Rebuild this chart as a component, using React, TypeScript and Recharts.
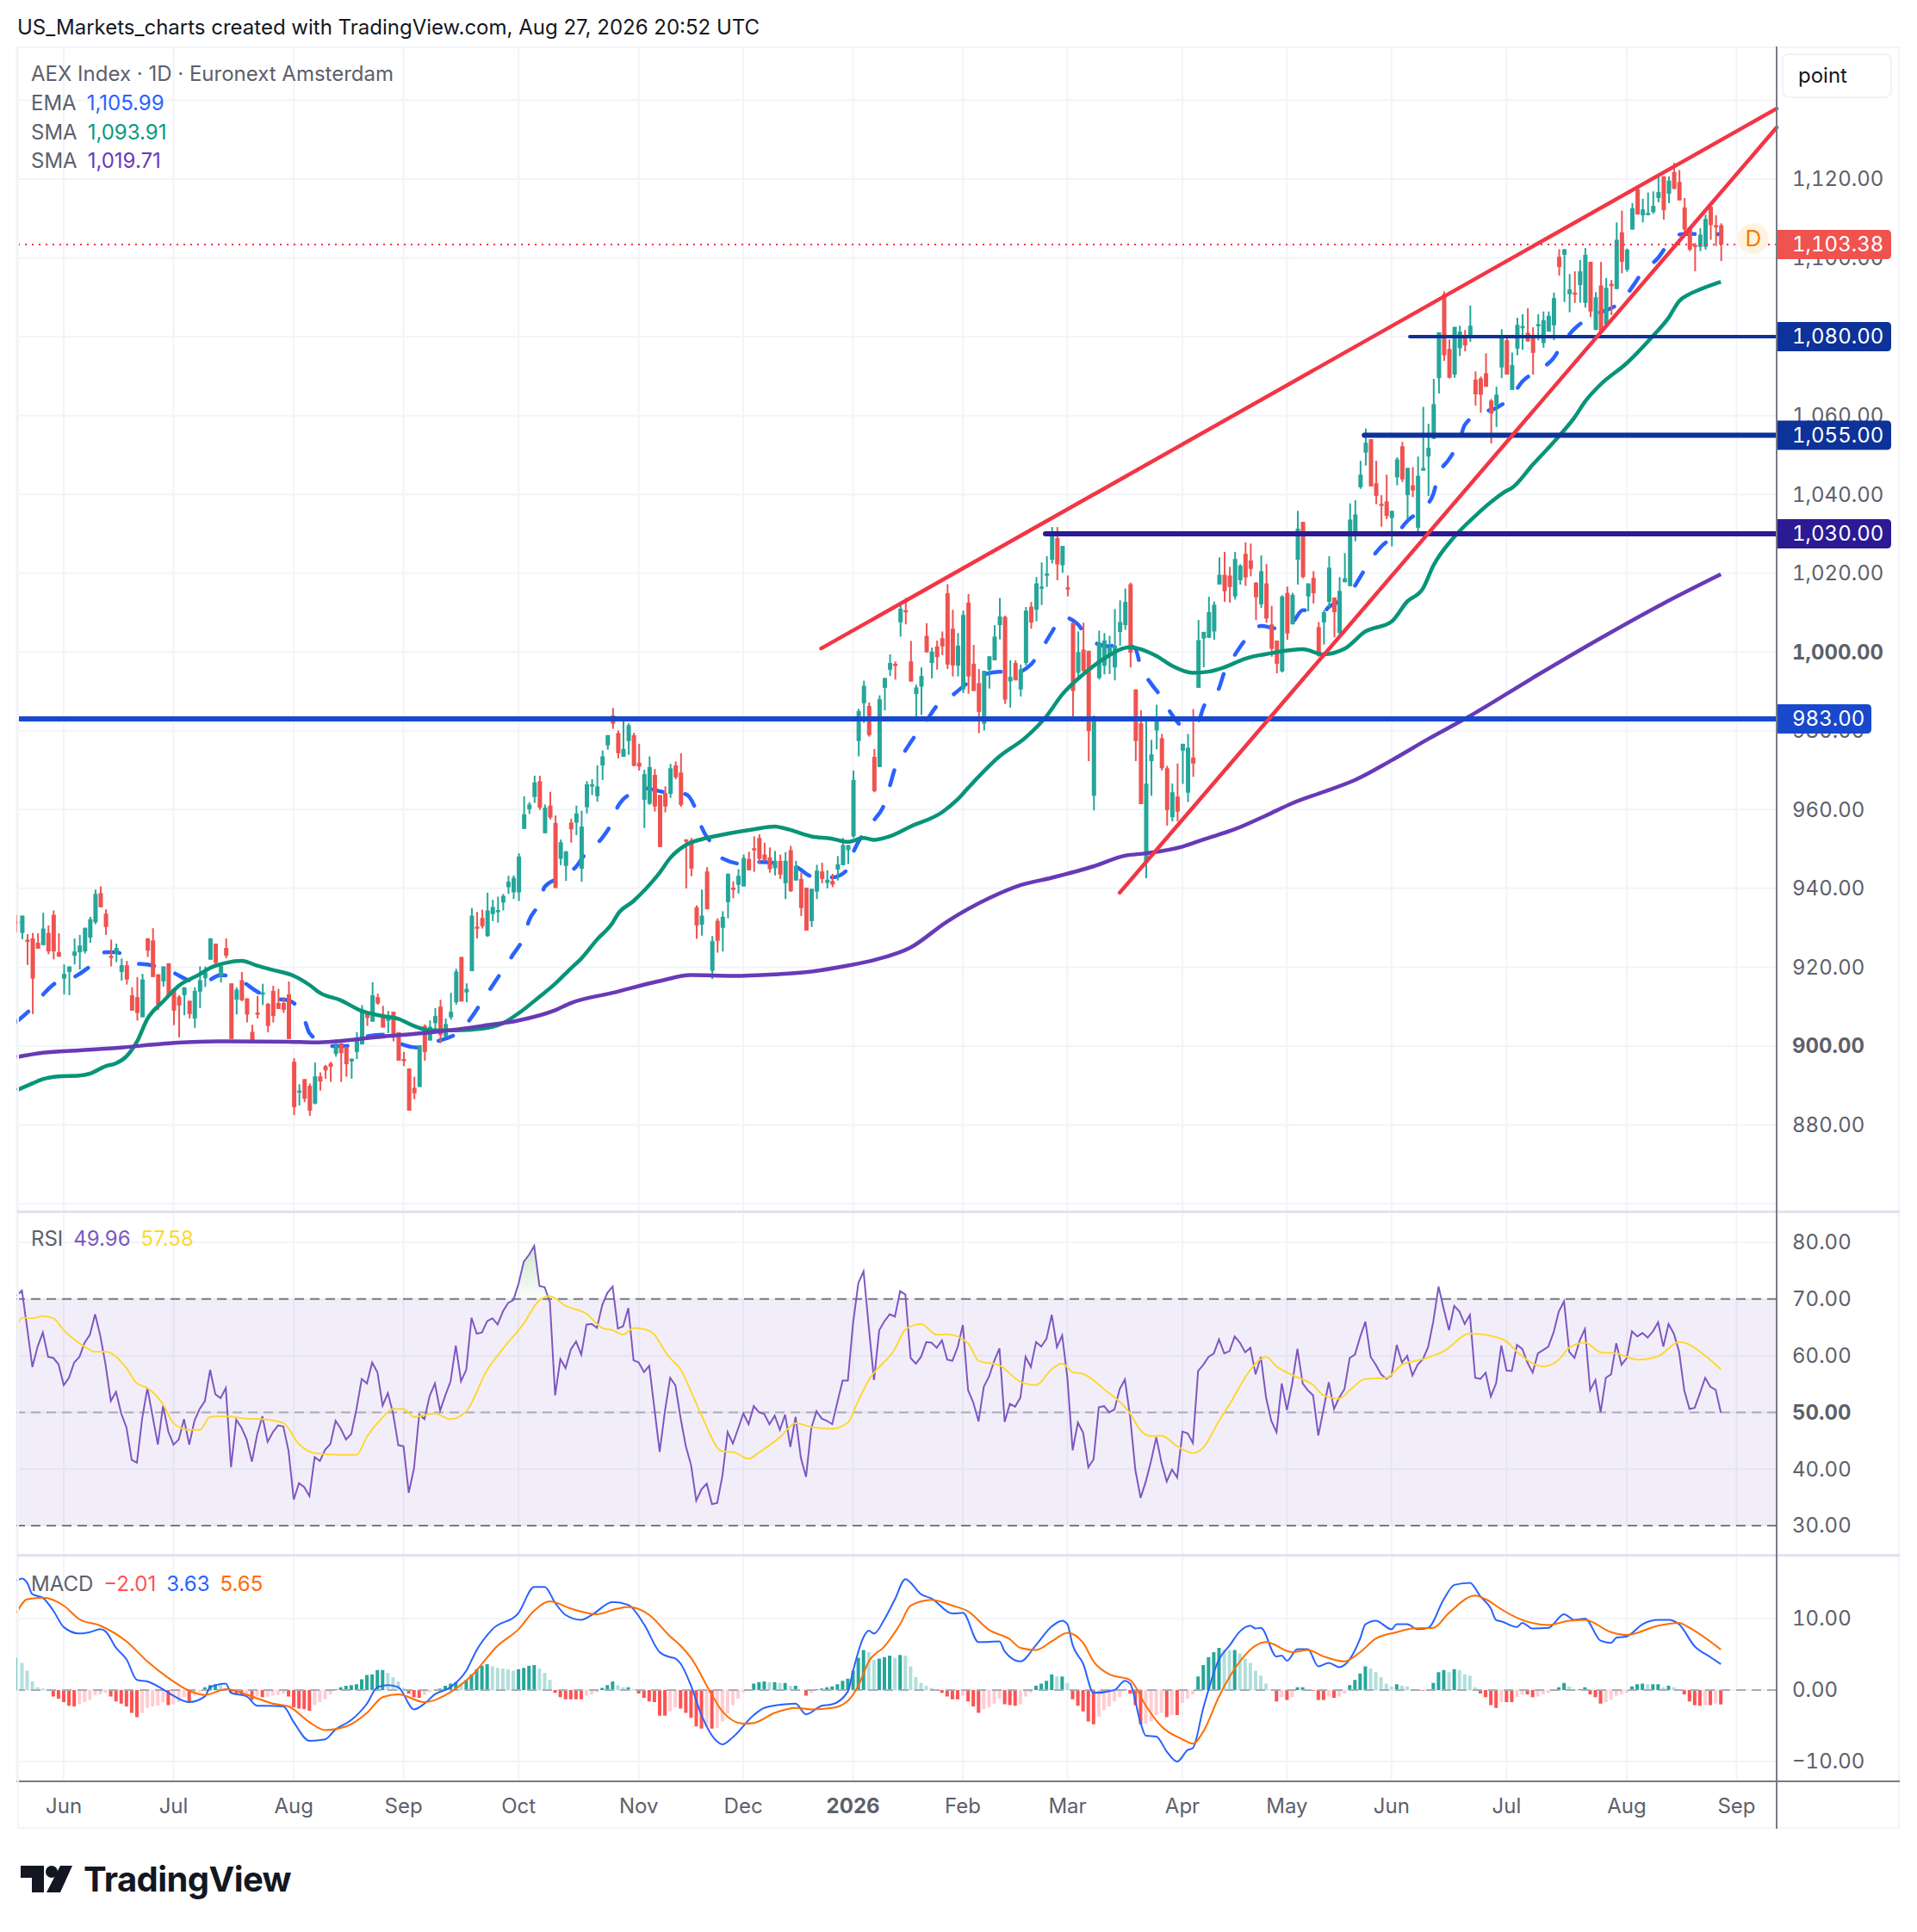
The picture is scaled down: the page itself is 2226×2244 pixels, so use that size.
/**
 * AEX Index daily chart with RSI and MACD panes, drawn with Recharts.
 */
import React from 'react';
import {
  ComposedChart,
  Bar,
  Line,
  Area,
  Cell,
  XAxis,
  YAxis,
  CartesianGrid,
  ReferenceLine,
  ReferenceArea,
  ReferenceDot,
} from 'recharts';

const FONT = 'Inter, "Liberation Sans", sans-serif';
const UP = '#26a69a';
const DOWN = '#ef5350';
const GRID = '#f2f4f9';
const TEXT = '#5d606b';

// [open, high, low, close], one row per session from late May 2025
const ohlc: number[][] = [
  [931.7,933.3,928.9,931],[928.7,933.1,927.1,933.1],[927,928.4,920.6,926.7],[927.3,928.7,908.1,917.1],[926.2,928.6,924.7,924.7],
  [925.6,933.8,925.6,929.8],[928.7,930.6,923.3,924],[933.3,934.4,922,924],[923.8,928.6,922.6,922.7],[917.1,920.7,913.1,918.3],
  [918.8,920.2,912.9,920.2],[922.9,927.3,920.7,924],[923.8,928.2,919.4,925.5],[924,930,923.5,930],[927.5,932.8,926.2,932.2],
  [931.4,939.7,930.9,938.6],[938.8,940.5,935.2,935.2],[933.6,934.7,928.2,930.2],[922.9,927,920.2,922.6],[923.5,926,921.3,924.9],
  [918.8,922.2,916.6,920.5],[920.5,921.6,915.6,916.9],[912.9,914.9,909,909],[912.4,917.5,906.5,908.4],[907.3,918.3,907.3,916.9],
  [927.3,927.4,922.6,924.2],[926.8,929.9,917.5,917.5],[918.2,918.2,909.1,910.5],[916.4,920.2,915.1,920.2],[921,921,912.9,912.9],
  [914.5,914.5,905.3,909],[912.5,912.9,902.2,910.3],[912.9,914.9,907.8,914.9],[911.5,911.5,907,908.1],[907,914.9,904.6,914],
  [913.8,920.2,909.6,916.7],[917.2,920.2,915,918.7],[921.9,927.4,921.9,927.3],[926,926,920.2,921.1],[917.7,920.7,916.1,920.4],
  [924.9,927.3,922.3,922.9],[915.9,915.9,901.8,901.8],[911.8,914.9,908,914.3],[916.7,918.8,911.4,911.6],[912.1,912.1,906,908],
  [903.6,905.4,900.8,900.8],[908.5,912.7,907,908],[913.3,915.8,910.4,913.6],[910.7,910.9,903.5,905.1],[914,915.3,906,907.6],
  [910.9,914.5,909.4,909.4],[910.9,912.4,908.4,909.2],[913.1,916.4,901.8,901.8],[896,896.9,882.5,884.5],[888.4,890.3,884.9,888.7],
  [891.6,891.6,885.8,886.6],[889.9,890.5,882.3,883.6],[885.4,895.8,885.2,892.3],[892.3,893.3,888.7,891],[894.9,895.2,891.7,893.8],
  [895.6,896,890.9,894.7],[898,901.7,897.3,900],[900.7,900.7,890.9,898.2],[899.8,899.8,892.2,895.4],[896.1,896.8,891.7,896.8],
  [898.5,903.5,896.7,902],[900.4,910.4,900.4,909.1],[908.7,908.7,905.1,907.1],[906.2,916.2,906.2,912.9],[912.4,913.3,910.5,910.8],
  [908,910.2,904.7,904.7],[906.4,908.9,903.3,907.6],[908.7,908.7,901.2,902.9],[903.5,903.5,896.3,896.3],[896.7,898.5,894.9,896.5],
  [894.3,894.3,883.6,883.6],[889.4,892.2,886.5,888],[889.6,900.2,889.6,900.2],[905.1,905.5,896.3,898.5],[901.4,906.5,901.4,904.9],
  [905.8,909.6,904,907.6],[910,911.7,900.7,902.8],[902.4,907,902.4,905.6],[907.3,913.5,906.7,908.7],[911.1,919.6,910.5,918.9],
  [922.6,922.6,911.3,911.3],[913.6,915.9,911.1,914.5],[919,935,919,933.1],[930.3,934,927.3,930.1],[932.5,934.6,929.8,930.4],
  [927.9,938.9,927.7,934.4],[933.5,937.1,931.7,935.3],[934.2,937.9,931.3,934.5],[936.4,938.6,934.4,938.1],[940.3,943.2,938.6,941.7],
  [939,943.3,937.3,942.7],[939,948.9,936.8,948.1],[955.1,963.4,955.1,958.8],[960.1,961.9,958.9,961.3],[963.2,968.6,961.7,966.9],
  [967.2,968.6,959.9,960.5],[954,961.3,954,960.5],[961,964.5,957.5,958],[956.6,958.5,940.1,940.1],[947.5,952.4,945.9,951.7],
  [945.7,949.5,941.9,949.4],[956.7,957.7,951.6,955],[956.7,961,953.5,959],[945,959.7,941.7,955.7],[960.6,967.2,959,966.4],
  [966,967.7,963.7,966.4],[963.4,971.2,962,965.9],[971.2,975,967.5,973.5],[976.3,978.9,975.2,978.9],[983.9,985.8,980.5,981.8],
  [979.4,980.1,973,974.3],[973.4,982.5,973.4,975.4],[977.4,981.9,973.9,981.4],[978.9,979.5,971,971.1],[971.9,976.7,969.9,970.9],
  [962.5,970.1,955.3,969],[961.5,973.5,961.2,970.8],[968.8,970.3,959.5,960.8],[963.7,963.7,950.5,950.5],[964.2,965.9,959.3,960.8],
  [964,971.6,963,970.5],[971.2,972.2,967.7,968.2],[969.4,974.3,960.7,961.2],[952.4,952.5,940,952.3],[952.2,952.8,943.1,945],
  [935.2,935.7,927.2,930.6],[930.8,939.7,928,933.1],[944.3,945.4,934.7,934.7],[919.1,927.9,917,926.6],[931.8,932.4,923.7,926.7],
  [930,934.2,924,932.8],[936.5,943.8,932.4,943.7],[940.2,941.8,937.5,939.7],[940.9,944.9,938.7,943.2],[940.5,948.6,940.5,947.7],
  [947.5,949.3,944.6,944.6],[950.2,953.2,944.2,950],[952.8,953.7,946.4,947.5],[948.6,951.6,947,947.2],[947.9,950.4,944,944.9],
  [945.1,949.5,943.3,947],[947,948.6,942.4,943.5],[941.3,949.2,937.3,947],[949.7,950.8,939.1,939.3],[942,947,942,945.7],
  [942.4,944,933,935],[940.2,940.2,929.3,929.3],[931.7,939.9,930.2,939.9],[939.2,946,937.3,944.5],[944.3,946.5,941.3,942.4],
  [941.4,944.6,940,942.2],[941.9,943.7,940.3,941],[944.8,948.2,942,946.1],[945.9,952.8,945.9,951],[949.7,951,946.2,951],
  [953.2,969.9,952.8,967.5],[977.4,985.6,973.5,985],[987,992.7,982,991.4],[986.3,987.2,978.5,978.9],[973.4,975.4,964.4,964.7],
  [970.8,989,970.8,988],[990.9,993.4,985.2,993.4],[995.5,999.4,993.9,997.2],[997,997.6,993,996.8],[1007.5,1012.6,1003.9,1011],
  [1010.6,1013.7,1007,1010.4],[997.6,1002.8,992.5,992.5],[989.3,991.7,982.5,991],[991.2,996.1,984,993.9],[1004.1,1007.3,999.9,999.9],
  [997.2,1001.1,993.3,1000.1],[1001.4,1002.9,995.5,998.7],[1003.5,1005.2,999.2,1001.4],[1014.9,1017.2,995.7,996.8],[1005.9,1010.7,993.8,996.6],
  [996.5,1004.8,993.8,1001.6],[990.5,1010.5,989.6,1009.4],[1012.5,1014.7,989.4,993.8],[997,1001.8,990.1,990.1],[992.1,995.7,979.4,984.8],
  [981.8,995.2,980.1,995.2],[995.5,998.9,990.7,998.9],[997.9,1006.8,997.9,1003.9],[1006.8,1013.7,1003.2,1009],[1008.9,1009.2,986.8,987.9],
  [992.5,997.9,985.9,993.7],[997.2,997.9,992.8,992.8],[990.5,996.8,988.7,995.6],[997.2,1011.4,996.6,1010.5],[1011.5,1012.7,1005.9,1007.5],
  [1010.7,1019,1007.8,1017.4],[1016.3,1022.7,1011.9,1016.6],[1019.6,1024.3,1016.5,1019.9],[1023.4,1031.7,1022.5,1030],[1028.9,1031.7,1018.2,1022.2],
  [1022,1026.9,1020.1,1026.9],[1016.4,1019.4,1014.1,1016.2],[1007.4,1007.4,983.4,990.1],[994.7,1005.2,993.4,1000],[1000.6,1007.4,994.7,995.2],
  [1000.3,1000.3,972.3,979.9],[963.5,983.9,959.8,983.4],[993.4,1005.4,993,1002.4],[996.5,1004.8,994.3,1002.9],[999,1004.1,994.4,1001],
  [996.1,1010.9,992.8,1001.6],[1005.1,1013.1,1001.6,1007.6],[1006.8,1016.1,1005.6,1012.7],[1017.2,1017.6,996.1,999.8],[990.5,990.5,972.3,977.4],
  [981.9,985.2,961.4,961.4],[946.6,982.8,942.6,966.6],[972.3,977.7,963.5,974],[980.1,986.6,975.3,983],[978.1,979.2,969.9,970.5],
  [970.5,971.1,955.9,959.9],[958.1,966.6,957,964.4],[963.3,971.7,957,959.5],[975,976.7,966.5,976.7],[964.3,979.2,961.9,975.7],
  [973.2,985.5,968.3,971.7],[990.9,1008.1,990.9,1003],[1003.4,1005.1,996.1,1005.1],[1003.6,1014,1003.6,1010.1],[1005.2,1012.8,1003.1,1012],
  [1017.1,1024,1017.1,1019.6],[1019.6,1025.4,1012.7,1015.4],[1019.4,1021.6,1012.5,1016.5],[1014.1,1025.4,1013.3,1023.6],[1018.2,1022.3,1017.1,1021.9],
  [1024.9,1027.8,1016.8,1018.9],[1023.2,1027.5,1019.2,1021.1],[1017.6,1017.7,1008.1,1013.9],[1012.1,1024.5,1011.2,1020.5],[1017.4,1022.3,1007.4,1008.5],
  [1007,1011.7,998.8,1000.8],[1002.9,1002.9,994.6,997],[995.1,1014.4,994.8,1014.1],[1015,1016.6,1003.1,1004.7],[1007,1015,1007,1014.5],
  [1023.4,1035.8,1017.1,1031.3],[1033,1033,1018.7,1019],[1014.1,1017.4,1010.3,1017.4],[1018.8,1020.5,1012.3,1014.9],[1006.3,1007.6,998.8,999],
  [1007.5,1010.6,1001.9,1010.1],[1012.7,1024.3,1011.4,1021.4],[1013.8,1013.8,1003.7,1010.1],[1004.8,1019,1003.9,1015.5],[1017.7,1025.1,1017.7,1018.7],
  [1016.7,1037.7,1016.7,1033.6],[1029.6,1038.5,1028.1,1034.9],[1041.8,1048.5,1041.4,1045],[1050.6,1056.7,1047.3,1053.1],[1054,1054,1042,1042],
  [1042.8,1048.5,1037.5,1039.6],[1037.6,1039.8,1031.8,1037.4],[1038.2,1045,1033.7,1034.5],[1034,1035.8,1026.8,1035.8],[1044.3,1049.4,1042.3,1048.9],
  [1052.2,1053.3,1043.1,1043.8],[1039.8,1046.7,1033.6,1046.7],[1042.3,1046.9,1039.3,1041],[1031.5,1049.6,1029.8,1044.7],[1046,1062.2,1046,1046.7],
  [1049.6,1057.9,1039.6,1051.8],[1054.1,1069.3,1054,1062.9],[1069.5,1081.1,1065.6,1081.1],[1090.8,1091.5,1073.9,1075.3],[1076.9,1079.3,1069.4,1069.6],
  [1070.4,1082.5,1069.6,1082.5],[1077.1,1082.8,1075.1,1081.3],[1079.6,1081.7,1076.3,1077.8],[1080,1087.9,1078.7,1082.8],[1069.1,1071.2,1062.5,1065.4],
  [1069.4,1069.9,1060.7,1065.3],[1070.7,1075.8,1067.3,1067.3],[1063.8,1064.2,1052.9,1060.5],[1062.5,1067.3,1057.1,1065.3],[1072.2,1081.9,1069.5,1080.2],
  [1079.1,1080.2,1070.4,1070.4],[1066.5,1076,1066.5,1072.8],[1077,1084.8,1075.3,1083],[1082.4,1085.7,1076.7,1082.7],[1081,1087.2,1078.8,1078.8],
  [1080.4,1082.4,1070.4,1075.9],[1082.9,1085.7,1079.1,1083.2],[1078.4,1086.4,1077.2,1084.2],[1081.3,1086.4,1081.3,1085.3],[1082.9,1091.2,1079.1,1089.8],
  [1100.3,1102.2,1095.5,1097.7],[1100.8,1102.2,1088.8,1102.2],[1090.8,1095.9,1086.2,1092],[1091.2,1096.6,1088.6,1091],[1093.1,1099.5,1088.6,1096.6],
  [1088.6,1102.5,1087.4,1100.8],[1099,1099,1085,1086.4],[1081.7,1091.3,1081.7,1090],[1093,1099,1081,1081],[1083.1,1094.9,1083.1,1092.4],
  [1093.4,1094.4,1085.5,1093.2],[1092.1,1109,1092.1,1104.6],[1106.5,1112,1096.1,1099],[1097,1102.4,1096.5,1102.1],[1107.2,1113.9,1107.2,1112.6],
  [1117.5,1117.9,1111,1111],[1110.8,1115,1109,1112.3],[1111.2,1116.6,1110.8,1111.4],[1111.6,1116.9,1111.2,1113.2],[1115.2,1121.2,1114.1,1116.7],
  [1120.7,1120.7,1109.7,1112.1],[1116.3,1120.7,1113.9,1119.6],[1121.8,1124.1,1117.5,1117.5],[1119.3,1122.3,1114.6,1114.6],[1112.8,1115.2,1106.4,1107.2],
  [1107.8,1107.8,1101.7,1102.1],[1103.3,1103.8,1096.6,1103.1],[1102.8,1107.5,1101.7,1105.9],[1102.8,1111,1102.1,1109.9],[1113,1113,1104.6,1108.3],
  [1108.3,1110.8,1103,1108.1],[1108.3,1108.8,1099.2,1103.38],
];

// Moving averages: [session index, value]
const emaPoints: number[][] = [
  [0,906.2],[3,909.8],[5,913],[7,915.6],[11,917.5],[14,920.2],[17,923.8],[19,923.8],[23,920.9],[25,920.7],[30,918.6],[33,916.7],[36,916.4],[39,918],[43,916.5],[46,913.8],[49,912.1],[52,911.6],[55,906.9],[56,903.3],[60,900],[63,900],[67,902.5],[71,902.9],[74,900.3],[77,899.6],[80,901],[85,904],[87,907.3],[89,911.3],[91,915.3],[93,919.3],[95,923.3],[97,927.7],[98,931.8],[100,936.4],[101,940.4],[104,942.8],[107,945.5],[109,949.2],[112,952.8],[114,957.2],[115,960.8],[118,964.4],[120,965.4],[124,964.4],[128,963.9],[130,959.7],[131,955.6],[133,951.3],[135,947.6],[139,946.2],[142,946.7],[149,945.5],[152,943.1],[156,942.8],[159,944.9],[160,949],[162,953.9],[164,957.3],[166,961.5],[167,965.9],[168,970.4],[170,975],[172,979],[174,982.5],[176,986.3],[179,989],[182,992.2],[188,995],[190,994.3],[194,996.8],[196,1000.6],[198,1005],[200,1008.9],[203,1007],[205,1003.4],[209,1001.4],[211,1002.5],[214,1000.8],[215,996.3],[217,992],[219,988.5],[221,984.1],[223,981.3],[226,982.3],[227,985.9],[230,990.8],[231,994.8],[233,999.2],[235,1003],[238,1006.6],[241,1006],[244,1007.4],[246,1010.6],[250,1010.3],[251,1011.4],[255,1014.8],[257,1019],[259,1023.4],[261,1026.7],[264,1030],[266,1033.2],[269,1036.4],[271,1040.1],[272,1044.9],[274,1048.9],[276,1053.6],[277,1057.6],[280,1060.6],[283,1061.9],[286,1064.9],[288,1068.6],[291,1071.4],[294,1074.6],[296,1078.9],[298,1082],[301,1085],[307,1089.1],[309,1092.5],[311,1096.4],[314,1100],[316,1103.7],[318,1105.9],[319,1106.1],[324,1106.1],[326,1105.99],
];
const sma50Points: number[][] = [
  [0,888.8],[3,890.5],[5,891.6],[8,892.3],[12,892.5],[14,893],[17,894.9],[19,895.6],[21,897.4],[23,901.1],[25,906.9],[28,911.3],[31,915.3],[35,918.2],[37,919.8],[40,921.1],[43,921.6],[46,920.4],[49,919.3],[53,917.8],[56,915.5],[58,913.5],[62,911.6],[66,908.9],[70,907.6],[73,906.9],[76,905.1],[79,904],[84,904],[89,904.4],[93,905.8],[96,908.3],[100,912.5],[103,915.8],[106,919.7],[108,922.2],[111,927],[114,931.3],[115,933.5],[118,936.8],[123,944],[125,947.7],[128,951],[132,952.8],[136,953.9],[141,955],[145,955.7],[147,955.2],[152,953.2],[156,952.6],[159,951.8],[162,952.8],[164,952.3],[167,953.2],[171,955.7],[177,959.3],[180,962.6],[182,965.5],[188,973.5],[193,978.3],[197,983.7],[200,989.2],[204,994.3],[208,998.3],[213,1001.2],[218,999],[221,996.5],[225,994.7],[228,995],[231,996.1],[235,998.3],[240,999.7],[246,1000.7],[250,999.4],[254,1000.8],[258,1005.2],[263,1007.7],[266,1012.8],[269,1016.1],[271,1021.9],[275,1029.2],[279,1034.5],[282,1038],[285,1040.9],[286,1041.6],[290,1047.5],[295,1054.7],[298,1059.5],[300,1063.5],[303,1067.9],[308,1073.3],[313,1080.2],[316,1084.8],[318,1089],[320,1090.8],[322,1092],[325,1093.5],[326,1093.91],
];
const sma200Points: number[][] = [
  [0,897.2],[5,898.3],[12,898.9],[20,899.6],[28,900.6],[40,901.2],[52,901.1],[57,900.9],[70,902.4],[78,903.3],[89,905.1],[96,906.5],[103,909.1],[106,910.9],[114,913.5],[123,916.5],[129,918],[137,917.8],[145,918.2],[152,918.9],[159,920.4],[164,921.8],[171,925],[178,931.6],[186,937.5],[192,940.8],[198,942.7],[206,945.6],[212,948.3],[216,948.9],[223,950.6],[227,952.4],[233,955],[239,958.5],[244,961.6],[250,964.5],[256,967.5],[263,972.5],[270,977.9],[277,983],[291,994.2],[303,1003.5],[315,1012.3],[326,1019.71],
];

// RSI pane
const rsi: number[] = [
  70.6,71.5,64.9,58,61.6,64.1,59.8,59.6,58.5,54.8,
  56.1,58.8,59.8,62.3,63.7,67.3,63.5,58.4,52,53.6,
  49.8,47.3,41.6,41.1,48.9,54.3,49.3,44.3,51.2,46.6,
  44.3,45.2,48.8,44.3,48.5,50.6,52,57.5,53.2,52.5,
  54.3,40.3,48.7,47.3,45.2,41.3,46.1,49.3,44.8,46.5,
  47.7,47.5,43.2,34.6,37.5,36.8,35.2,42.1,41.4,43.4,
  44.4,48.5,47.1,45.2,46.2,50.6,55.9,55.1,58.8,57.1,
  51.2,53.4,49.8,44.2,44,35.8,40.1,49.6,48.8,52.9,
  55.1,50.3,53,55.5,61.8,55.5,57.5,66.7,63.9,64.1,
  66.1,66.6,65.5,67.8,69.3,69.8,72.7,76.6,77.8,79.4,
  72.3,72.1,69.4,53,59.4,57.8,61.1,62.5,60.2,65.5,
  65.6,64.9,68.9,71.1,72.2,64.8,65.2,68.4,59.2,58.8,
  57.1,58.2,50.6,43,50.2,56.1,54.8,49,44,40.7,
  34.4,36.4,37.4,33.8,34,38.8,46.5,44.5,47.1,49.8,
  47.9,51.1,50,49.7,47.9,49.4,46.9,49.6,43.9,49.2,
  42,38.6,47.2,50.2,48.9,48.5,47.9,51.8,55.6,55.6,
  65.8,72.8,74.9,65.1,55.7,64.5,66.1,67.3,66.9,71.4,
  70.8,59.6,58.6,59.8,62.4,62.3,61.4,62.7,59.3,59.1,
  61.5,65.4,53.9,51.7,48.4,54.5,56.3,59.1,61.3,48.3,
  51.5,51,52.6,59.8,58,62.4,61.6,63,67.2,61.5,
  63.6,56,43.3,48.2,46.4,40.3,41.7,50.9,51.1,50,
  50.5,54.1,55.8,49.2,39.8,34.9,37.8,41.4,45.6,41.1,
  37.8,39.9,38.5,46.6,46.3,44.6,57.3,58.4,59.8,60.4,
  62.9,60.4,60.8,63.4,62.3,60.6,61.4,56.7,59.8,52.6,
  48.5,46.5,55.1,50.4,55.1,61.2,55.1,53.9,53,45.9,
  50.6,55.3,50.6,52.6,54.1,59.6,60.2,63.3,66,59.8,
  58.4,56.7,55.9,56.5,61.9,58.8,60,56.5,58.4,59.4,
  61.5,66.1,72.2,68.2,64.5,68.8,67.8,65.6,67.2,56.1,
  55.9,57,52.8,55.1,61.8,57.4,57.3,61.9,61.2,58.8,
  57,60.4,61,61.6,64.1,67.8,69.6,60.7,59.6,62.7,
  64.7,53.9,55.7,50,56.1,56.7,62.2,58.4,59.6,64.3,
  63.4,64,63.2,64.3,65.9,61.6,65.6,63.9,60.8,53.9,
  50.6,50.8,53.4,56.1,54.5,54,49.96,
];
const rsiMaPoints: number[][] = [
  [0,64.9],[1,66.7],[3,66.6],[5,67],[7,66.6],[9,64.5],[13,61.6],[15,60.7],[17,60.7],[21,57.8],[23,55.1],[25,54.3],[28,51.4],[30,48.1],[33,46.9],[35,46.9],[37,49.2],[40,49.3],[44,48.9],[47,48.8],[51,48.1],[54,44.4],[57,42.8],[62,42.5],[65,42.5],[67,45.7],[70,49.1],[72,50.6],[74,50.6],[76,49.2],[80,49.8],[83,48.8],[86,50.2],[90,57.5],[93,61.2],[97,65.7],[100,69.8],[102,70.5],[105,68.8],[109,67.4],[112,64.9],[114,64.5],[116,63.7],[118,64.9],[120,64.7],[122,63.7],[124,60.8],[125,59.6],[127,57.6],[129,53.7],[131,49.5],[135,43.1],[137,43],[140,41.8],[142,42.9],[146,45.6],[149,48.1],[152,47.4],[156,47.1],[159,48.2],[161,52.1],[163,55.7],[168,61.2],[170,64.6],[173,65.6],[176,63.7],[178,63.8],[182,62.2],[184,59.1],[188,58.3],[192,55.4],[195,54.8],[198,57.6],[200,58.6],[202,57.1],[204,56.8],[208,54.1],[213,49.8],[215,46.8],[217,45.8],[219,45.9],[222,44],[225,42.8],[227,43.8],[230,48.5],[232,51.4],[236,57.5],[239,59.8],[241,58.1],[244,56.6],[248,54.8],[250,53],[253,52.4],[255,53.9],[258,55.9],[262,56.1],[265,58.4],[269,59.4],[273,60.8],[278,63.9],[283,63.3],[285,62.5],[287,60.7],[292,58.1],[295,59.3],[297,61.4],[300,62.3],[303,60.6],[306,60.4],[310,59.3],[314,59.9],[318,62.4],[319,62.3],[323,60],[326,57.58],
];

// MACD pane
const macdPoints: number[][] = [
  [0,15.3],[1,15.6],[2,15],[3,13.4],[5,12.9],[7,11.1],[9,8.8],[12,7.9],[14,8.1],[16,8.5],[17,8.2],[19,5.9],[21,4.3],[23,1.4],[25,1.2],[28,0.1],[30,-0.8],[33,-1.7],[36,-0.9],[37,0.4],[40,0.9],[41,-0.4],[44,-0.9],[46,-2.2],[48,-2.2],[51,-2.3],[53,-4.5],[56,-7.1],[59,-6.9],[61,-5.5],[64,-4.2],[67,-1.9],[69,0.4],[71,0.7],[73,0.4],[76,-2.7],[78,-1.9],[80,-0.6],[83,0.4],[86,2.7],[88,5.6],[91,8.5],[96,10.8],[99,14.4],[101,14.4],[103,12.2],[105,10.5],[108,9.8],[110,10.5],[114,12.3],[117,11.9],[120,9.2],[123,5.3],[125,4.6],[126,4.4],[127,3.7],[129,0.6],[131,-3.5],[134,-7.2],[135,-7.6],[137,-6.6],[141,-3.5],[143,-2.5],[147,-2],[149,-1.9],[151,-3.4],[154,-2.2],[156,-2],[159,-0.2],[160,2.7],[162,7.4],[163,8.3],[164,7.9],[166,9.9],[168,12.7],[170,15.5],[173,13.4],[175,12.8],[179,10.7],[181,10.8],[184,6.7],[188,6.8],[189,5.4],[192,4],[195,6.3],[198,8.9],[200,9.7],[201,9.2],[202,6.3],[204,3.7],[206,-0.4],[210,0],[212,1.3],[213,0.9],[215,-4.6],[216,-6.4],[218,-6.5],[220,-8.6],[222,-10],[224,-8.4],[225,-8.1],[227,-2.5],[230,4.3],[232,6.2],[234,8.2],[236,9],[237,8.6],[238,8.7],[241,4.7],[242,4.8],[243,4.1],[245,5.7],[247,5.7],[249,3.3],[251,3.8],[253,3.2],[254,3.5],[257,7.2],[258,9.2],[260,9.7],[263,8.5],[264,9.2],[266,9.2],[268,8.5],[270,8.7],[273,12.7],[275,14.7],[278,15],[280,13.1],[282,11.4],[283,9.8],[284,9.6],[287,8.8],[288,9.4],[290,8.6],[293,8.7],[296,10.6],[298,9.8],[300,10],[303,6.9],[305,6.6],[306,7.3],[308,7.5],[311,9.2],[314,9.8],[316,9.8],[318,9.2],[321,6.1],[324,4.6],[326,3.63],
];
const signalPoints: number[][] = [
  [0,10.8],[2,12.7],[5,12.9],[9,11.8],[12,9.9],[16,9],[21,6.8],[25,4],[29,1.7],[33,-0.1],[36,-0.7],[40,0.1],[45,-0.9],[49,-1.9],[52,-2.3],[56,-4.5],[59,-5.6],[63,-5.1],[67,-3.2],[70,-1],[73,-0.6],[78,-1.7],[83,-0.3],[87,2],[92,6.2],[96,8.5],[99,11.1],[102,12.4],[106,11.4],[111,10.6],[115,11.4],[117,11.6],[121,10.5],[125,7.5],[127,6.2],[129,4.5],[133,-0.7],[135,-3],[139,-4.7],[141,-4.6],[145,-3.2],[149,-2.5],[152,-2.7],[156,-2.5],[159,-1.5],[161,0.6],[163,4],[166,6.1],[169,9.2],[171,11.8],[175,12.6],[179,11.8],[182,11],[186,8.4],[190,7.1],[192,5.9],[195,5.6],[198,6.8],[201,8],[204,6.6],[206,4],[209,2.2],[213,1.4],[216,-2.2],[219,-5.1],[223,-6.9],[225,-7.5],[227,-5.8],[230,-0.9],[234,4],[237,6.2],[239,6.7],[244,5.3],[247,5.6],[250,4.7],[254,4],[257,5.3],[260,7.2],[264,8.1],[267,8.6],[271,8.7],[274,10.8],[279,13.2],[281,12.7],[284,11.3],[287,10.1],[293,9.1],[297,9.7],[300,9.8],[305,8.1],[308,7.7],[314,9],[318,9.4],[320,8.7],[326,5.65],
];
const histogram: number[] = [
  4.5,3.8,2.7,1.2,0.4,0.2,-0.1,-0.9,-1.2,-1.7,
  -2.2,-2.3,-2,-1.7,-1.4,-0.7,-0.6,-0.4,-0.9,-1.6,
  -1.9,-2.3,-3.2,-3.8,-3.2,-2.5,-2.3,-2.2,-1.7,-2.1,
  -2,-1.7,-1,-1.6,-0.8,-0.3,0.4,0.7,0.8,0.7,
  0.2,-0.3,-0.6,-0.7,-0.6,-1.4,-0.9,-1,-0.9,-0.8,
  -0.7,-0.5,-0.9,-2.4,-2.6,-2.7,-2.9,-2.1,-1.7,-1.3,
  -0.6,0.1,0.4,0.6,0.7,0.8,1.5,2.1,2.2,2.8,
  2.8,2.4,1.8,1.2,0.3,-0.5,-1,-1.1,-0.7,-0.3,
  0,0.2,0.6,0.9,1.1,1,1.4,2.2,2.9,3.4,
  3.6,3.3,3.1,3,2.9,2.7,2.9,3.1,3.4,3.5,
  3,2.4,1.4,-0.4,-1,-1.3,-1.3,-1.3,-1.3,-0.8,
  -0.6,-0.3,0.3,0.7,1.2,0.7,0.4,0.4,0.1,-0.5,
  -1.1,-1.6,-1.7,-3.6,-3.6,-3,-2.4,-2.6,-3.2,-3.9,
  -5.1,-5.4,-5.1,-5.4,-5.3,-4.4,-3.3,-2.1,-1.2,-0.3,
  0.1,0.9,1.1,1.2,1.1,1.1,1,1,0.6,0.6,
  0,-0.8,-0.4,0.1,0.2,0.4,0.5,0.8,1.3,1.6,
  2.7,4.5,5.6,5.3,4.2,4.4,4.6,4.8,4.5,4.9,
  4.8,3.3,1.8,1,0.6,0.3,-0.1,-0.4,-0.9,-1.3,
  -1.3,-0.8,-1.6,-2.3,-3.2,-2.7,-2.4,-1.9,-1.2,-2,
  -2.1,-2.2,-2,-0.9,-0.4,0.6,0.9,1.3,2.2,1.9,
  1.9,1,-1.3,-2.2,-3,-4.4,-4.8,-3.7,-2.8,-2.3,
  -1.6,-1,0.1,-0.5,-2.1,-4.8,-4.7,-4.4,-3.5,-3.2,
  -3.8,-3.5,-3.5,-1.8,-1.2,-0.6,1.9,3.5,4.6,5.3,
  5.9,5.7,5.6,5.6,5.1,4.4,3.8,2.7,2,0.9,
  0.1,-1.6,-1,-1.4,-1,0.4,0.4,0.1,-0.1,-1.4,
  -1.4,-0.9,-1.1,-0.9,-0.5,0.7,1.4,2.3,3.3,3,
  2.5,1.8,0.9,0.5,0.8,0.6,0.5,0.1,-0.1,-0.1,
  0.1,1,2.5,2.8,2.5,2.9,2.8,2.2,2,0.4,
  -0.5,-1,-2.1,-2.5,-1.7,-1.7,-1.7,-1,-0.6,-0.6,
  -1,-0.9,-0.6,-0.4,-0.1,0.4,1,0.5,0.1,0.1,
  0.4,-0.6,-1,-1.9,-1.7,-1.4,-0.8,-0.6,-0.4,0.5,
  0.8,0.9,0.8,0.8,0.8,0.4,0.6,0.4,0.1,-0.6,
  -1.6,-2.1,-2.2,-2.1,-2.1,-1.9,-2.01,
];

// Time axis, session index of the first session of each month
const monthTicks = [9, 30, 53, 74, 96, 119, 139, 160, 181, 201, 223, 243, 263, 285, 308, 329];
const monthLabels = ['Jun', 'Jul', 'Aug', 'Sep', 'Oct', 'Nov', 'Dec', '2026', 'Feb', 'Mar', 'Apr', 'May', 'Jun', 'Jul', 'Aug', 'Sep'];

const priceTicks = [860, 880, 900, 920, 940, 960, 980, 1000, 1020, 1040, 1060, 1080, 1100, 1120, 1140];
const rsiTicks = [30, 40, 50, 60, 70, 80];
const macdTicks = [-10, 0, 10];

// Lines drawn on the chart, as [index, price] pairs
const wedgeUpper = [[153.9, 1000.9], [336.67, 1137.9]];
const wedgeLower = [[211, 938.9], [336.67, 1133.1]];
const levels = [
  { price: 983, from: 0.6, width: 6, color: '#1848cc' },
  { price: 1030, from: 196.8, width: 6, color: '#2c1a94' },
  { price: 1055, from: 257.8, width: 6, color: '#0d3299' },
  { price: 1080, from: 266.5, width: 4, color: '#0d3299' },
];

const X_DOMAIN: [number, number] = [0, 336.67];
const CHART_WIDTH = 2206;
const LABEL_X = 2081;

const withPoints = (row: any, key: string, points: number[][]) => {
  points.forEach(([i, v]) => {
    if (i === row.i) row[key] = v;
  });
};

const rows = ohlc.map(([o, h, l, c], i) => {
  const row: any = { i, o, h, l, c, range: [l, h], rsi: rsi[i], hist: histogram[i] };
  withPoints(row, 'ema', emaPoints);
  withPoints(row, 'sma50', sma50Points);
  withPoints(row, 'sma200', sma200Points);
  withPoints(row, 'rsiMa', rsiMaPoints);
  withPoints(row, 'macd', macdPoints);
  withPoints(row, 'signal', signalPoints);
  if (i >= 95 && i <= 102) row.overbought = [70, Math.max(rsi[i], 70)];
  return row;
});

const histColor = (i: number) => {
  const v = histogram[i];
  const prev = i > 0 ? histogram[i - 1] : v;
  if (v >= 0) return v >= prev ? '#26a69a' : '#b2dfdb';
  return v <= prev ? '#ff5252' : '#ffcdd2';
};

const fmt = (v: number) =>
  (v < 0 ? '\u2212' : '') +
  Math.abs(v).toLocaleString('en-US', { minimumFractionDigits: 2, maximumFractionDigits: 2 });

const Candle = (props: any) => {
  const { x, y, width, height, payload } = props;
  const { o, h, l, c } = payload;
  const k = Math.abs(height) / (h - l);
  const top = Math.min(y, y + height);
  const bodyTop = top + (h - Math.max(o, c)) * k;
  const bodyH = Math.max(2.5, Math.abs(o - c) * k);
  const color = c >= o ? UP : DOWN;
  return (
    <g>
      <rect x={x + width / 2 - 1} y={top} width={2} height={Math.abs(height)} fill={color} />
      <rect x={x} y={bodyTop} width={width} height={bodyH} fill={color} />
    </g>
  );
};

const AxisLabel = ({ y, payload, bold, hidden }: any) => {
  if (hidden.includes(payload.value)) return null;
  return (
    <text
      x={LABEL_X}
      y={y}
      dy="0.35em"
      fontFamily={FONT}
      fontSize={24}
      fontWeight={bold.includes(payload.value) ? 700 : 400}
      fill={TEXT}
      style={{ fontVariantNumeric: 'tabular-nums' }}
    >
      {fmt(payload.value)}
    </text>
  );
};

const MonthLabel = ({ x, payload }: any) => {
  const label = monthLabels[monthTicks.indexOf(payload.value)];
  return (
    <text
      x={x}
      y={2098 - 1806}
      dy="0.35em"
      textAnchor="middle"
      fontFamily={FONT}
      fontSize={24}
      fontWeight={label === '2026' ? 700 : 400}
      fill={TEXT}
    >
      {label}
    </text>
  );
};

const PriceTag = ({ cy, label, color, w }: any) => (
  <g>
    <path
      d={`M2063 ${cy - 17}H${2063 + w - 5}Q${2063 + w} ${cy - 17} ${2063 + w} ${cy - 12}V${cy + 12}Q${2063 + w} ${cy + 17} ${2063 + w - 5} ${cy + 17}H2063Z`}
      fill={color}
    />
    <text
      x={LABEL_X}
      y={cy}
      dy="0.35em"
      fontFamily={FONT}
      fontSize={24}
      fill="#fff"
      style={{ fontVariantNumeric: 'tabular-nums' }}
    >
      {label}
    </text>
  </g>
);

const DBadge = ({ cx, cy }: any) => (
  <g>
    <circle cx={cx} cy={cy} r={18} fill="#fff3e0" />
    <text x={cx} y={cy} dy="0.36em" textAnchor="middle" fontFamily={FONT} fontSize={26} fill="#f57c00">
      D
    </text>
  </g>
);

const legendRow = (top: number, children: React.ReactNode) => (
  <div
    style={{
      position: 'absolute',
      left: 36,
      top: top - 16,
      height: 32,
      lineHeight: '32px',
      fontFamily: FONT,
      fontSize: 24,
      color: TEXT,
      whiteSpace: 'nowrap',
    }}
  >
    {children}
  </div>
);

const val = (text: string, color: string, gap = 12) => (
  <span style={{ color, marginLeft: gap }}>{text}</span>
);

const seg = (pts: number[][]) => pts.map(([x, y]) => ({ x, y })) as any;

const TIMEAXIS = 55;

export default function App() {
  return (
    <div style={{ position: 'absolute', left: 0, top: 0, width: 2226, height: 2244, background: '#fff', overflow: 'hidden' }}>
      <div style={{ position: 'absolute', left: 20, top: 17, fontFamily: FONT, fontSize: 24, color: '#131722', whiteSpace: 'nowrap' }}>
        US_Markets_charts created with TradingView.com, Aug 27, 2026 20:52 UTC
      </div>

      {/* Price pane */}
      <div style={{ position: 'absolute', left: 0, top: 54 }}>
        <ComposedChart width={CHART_WIDTH} height={1353} data={rows} margin={{ top: 0, right: 0, bottom: 0, left: 19.4 }} barCategoryGap={0}>
          <CartesianGrid stroke={GRID} strokeWidth={2} />
          <XAxis dataKey="i" type="number" domain={X_DOMAIN} ticks={monthTicks} interval={0} allowDataOverflow hide />
          <YAxis
            orientation="right"
            width={143}
            type="number"
            domain={[858.04, 1153.65]}
            ticks={priceTicks}
            interval={0}
            allowDataOverflow
            axisLine={false}
            tickLine={false}
            tick={(p: any) => <AxisLabel {...p} bold={[1000, 900]} hidden={[860, 1140]} />}
          />
          <Line dataKey="ema" connectNulls type="monotone" stroke="#2962ff" strokeWidth={4.5} strokeDasharray="18 26" strokeLinecap="round" dot={false} isAnimationActive={false} zIndex={250} />
          <Bar dataKey="range" barSize={5} shape={Candle} isAnimationActive={false} />
          <Line dataKey="sma50" connectNulls type="monotone" stroke="#089478" strokeWidth={4.5} dot={false} isAnimationActive={false} />
          <Line dataKey="sma200" connectNulls type="monotone" stroke="#673ab7" strokeWidth={4.5} dot={false} isAnimationActive={false} />
          <ReferenceLine y={1103.38} stroke="#f23645" strokeWidth={2} strokeDasharray="2 6" />
          {levels.map((lv) => (
            <ReferenceLine
              key={lv.price}
              segment={seg([[lv.from, lv.price], [X_DOMAIN[1], lv.price]])}
              stroke={lv.color}
              strokeWidth={lv.width}
              strokeLinecap="round"
              zIndex={450}
            />
          ))}
          <ReferenceLine segment={seg(wedgeUpper)} stroke="#f23645" strokeWidth={4.5} strokeLinecap="round" zIndex={450} />
          <ReferenceLine segment={seg(wedgeLower)} stroke="#f23645" strokeWidth={4.5} strokeLinecap="round" zIndex={450} />
          <ReferenceDot x={332.2} y={1104.9} ifOverflow="visible" zIndex={2100} shape={(p: any) => <DBadge cx={p.cx} cy={p.cy} />} />
          <ReferenceDot x={X_DOMAIN[1]} y={1103.38} ifOverflow="visible" zIndex={2100} shape={(p: any) => <PriceTag cy={p.cy} label="1,103.38" color="#ef5350" w={133} />} />
          <ReferenceDot x={X_DOMAIN[1]} y={1080} ifOverflow="visible" zIndex={2100} shape={(p: any) => <PriceTag cy={p.cy} label="1,080.00" color="#0d3299" w={133} />} />
          <ReferenceDot x={X_DOMAIN[1]} y={1055} ifOverflow="visible" zIndex={2100} shape={(p: any) => <PriceTag cy={p.cy} label="1,055.00" color="#0d3299" w={133} />} />
          <ReferenceDot x={X_DOMAIN[1]} y={1030} ifOverflow="visible" zIndex={2100} shape={(p: any) => <PriceTag cy={p.cy} label="1,030.00" color="#2c1a94" w={133} />} />
          <ReferenceDot x={X_DOMAIN[1]} y={983} ifOverflow="visible" zIndex={2100} shape={(p: any) => <PriceTag cy={p.cy} label="983.00" color="#1848cc" w={110} />} />
        </ComposedChart>
      </div>

      {/* RSI pane */}
      <div style={{ position: 'absolute', left: 0, top: 1407 }}>
        <ComposedChart width={CHART_WIDTH} height={399} data={rows} margin={{ top: 0, right: 0, bottom: 0, left: 19.4 }}>
          <defs>
            <linearGradient id="obFill" x1="0" y1="0" x2="0" y2="1">
              <stop offset="0%" stopColor="#c8e6c9" stopOpacity={0.9} />
              <stop offset="100%" stopColor="#c8e6c9" stopOpacity={0.1} />
            </linearGradient>
          </defs>
          <CartesianGrid stroke={GRID} strokeWidth={2} />
          <XAxis dataKey="i" type="number" domain={X_DOMAIN} ticks={monthTicks} interval={0} allowDataOverflow hide />
          <YAxis
            orientation="right"
            width={143}
            type="number"
            domain={[24.83, 85.48]}
            ticks={rsiTicks}
            interval={0}
            allowDataOverflow
            axisLine={false}
            tickLine={false}
            tick={(p: any) => <AxisLabel {...p} bold={[50]} hidden={[]} />}
          />
          <ReferenceArea y1={30} y2={70} fill="#7e57c2" fillOpacity={0.1} stroke="none" />
          <ReferenceLine y={70} stroke="#787b86" strokeWidth={2} strokeDasharray="11 7" />
          <ReferenceLine y={50} stroke="#a9abb5" strokeWidth={2} strokeDasharray="11 7" />
          <ReferenceLine y={30} stroke="#787b86" strokeWidth={2} strokeDasharray="11 7" />
          <Area dataKey="overbought" stroke="none" fill="url(#obFill)" fillOpacity={1} dot={false} activeDot={false} isAnimationActive={false} />
          <Line dataKey="rsi" type="linear" stroke="#7e57c2" strokeWidth={2} dot={false} isAnimationActive={false} />
          <Line dataKey="rsiMa" connectNulls type="monotone" stroke="#fdd835" strokeWidth={2} dot={false} isAnimationActive={false} />
        </ComposedChart>
      </div>

      {/* MACD pane */}
      <div style={{ position: 'absolute', left: 0, top: 1806 }}>
        <ComposedChart width={CHART_WIDTH} height={263 + TIMEAXIS} data={rows} margin={{ top: 0, right: 0, bottom: 0, left: 19.4 }}>
          <CartesianGrid stroke={GRID} strokeWidth={2} />
          <XAxis
            dataKey="i"
            type="number"
            domain={X_DOMAIN}
            ticks={monthTicks}
            interval={0}
            allowDataOverflow
            height={TIMEAXIS}
            axisLine={{ stroke: '#787b86', strokeWidth: 2 }}
            tickLine={false}
            tick={(p: any) => <MonthLabel {...p} />}
          />
          <YAxis
            orientation="right"
            width={143}
            type="number"
            domain={[-12.77, 18.9]}
            ticks={macdTicks}
            interval={0}
            allowDataOverflow
            axisLine={false}
            tickLine={false}
            tick={(p: any) => <AxisLabel {...p} bold={[]} hidden={[]} />}
          />
          <ReferenceLine y={0} stroke="#a9abb5" strokeWidth={2} strokeDasharray="11 7" />
          <Bar dataKey="hist" barSize={4} isAnimationActive={false}>
            {rows.map((r) => (
              <Cell key={r.i} fill={histColor(r.i)} />
            ))}
          </Bar>
          <Line dataKey="macd" connectNulls type="monotone" stroke="#2962ff" strokeWidth={2} dot={false} isAnimationActive={false} />
          <Line dataKey="signal" connectNulls type="monotone" stroke="#ff6d00" strokeWidth={2} dot={false} isAnimationActive={false} />
        </ComposedChart>
      </div>

      {/* Pane frame */}
      <div style={{ position: 'absolute', left: 20, top: 54, width: 2186, height: 2070, border: `2px solid ${GRID}`, boxSizing: 'border-box', pointerEvents: 'none' }} />
      <div style={{ position: 'absolute', left: 20, top: 1406, width: 2186, height: 3, background: '#e0e3eb' }} />
      <div style={{ position: 'absolute', left: 20, top: 1805, width: 2186, height: 3, background: '#e0e3eb' }} />
      <div style={{ position: 'absolute', left: 2062, top: 54, width: 2, height: 2070, background: '#787b86' }} />
      <div style={{ position: 'absolute', left: 2063, top: 2068, width: 143, height: 2, background: '#787b86' }} />

      {legendRow(86, 'AEX Index \u00b7 1D \u00b7 Euronext Amsterdam')}
      {legendRow(120, <>EMA{val('1,105.99', '#2962ff')}</>)}
      {legendRow(154, <>SMA{val('1,093.91', '#089981')}</>)}
      {legendRow(187, <>SMA{val('1,019.71', '#673ab7')}</>)}
      {legendRow(1439, <>RSI{val('49.96', '#7e57c2')}{val('57.58', '#fdd835')}</>)}
      {legendRow(1840, <>MACD{val('\u22122.01', '#ff5252')}{val('3.63', '#2962ff')}{val('5.65', '#ff6d00')}</>)}

      <div
        style={{
          position: 'absolute',
          left: 2069,
          top: 62,
          width: 128,
          height: 52,
          boxSizing: 'border-box',
          border: '2px solid #f0f3fa',
          borderRadius: 8,
          paddingLeft: 17,
          lineHeight: '47px',
          fontFamily: FONT,
          fontSize: 24,
          color: '#131722',
        }}
      >
        point
      </div>

      {/* Logo */}
      <svg style={{ position: 'absolute', left: 24, top: 2167 }} width={60} height={32} viewBox="0 0 60 32">
        <path d="M0 0H27V31H13V14H0Z" fill="#131722" />
        <circle cx="36" cy="7" r="7" fill="#131722" />
        <path d="M46 0H60L46 31H30Z" fill="#131722" />
      </svg>
      <div style={{ position: 'absolute', left: 97, top: 2157, fontFamily: FONT, fontWeight: 700, fontSize: 40, lineHeight: '52px', color: '#131722', letterSpacing: -0.6 }}>
        TradingView
      </div>
    </div>
  );
}
